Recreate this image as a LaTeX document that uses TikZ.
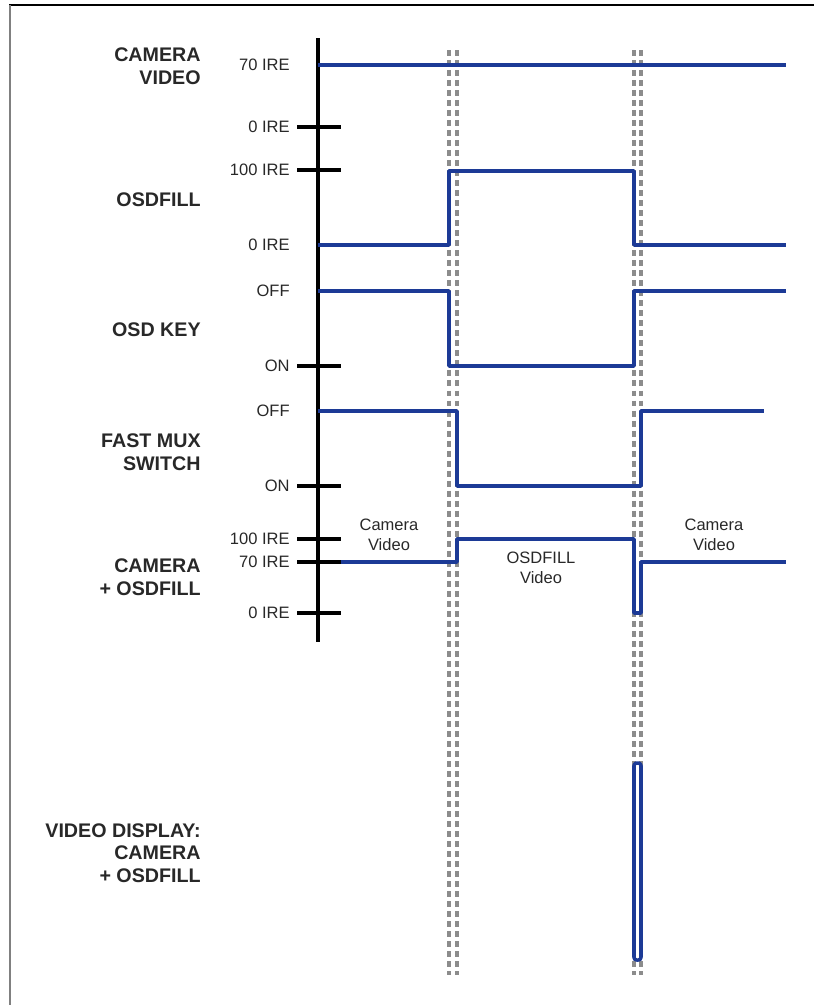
\documentclass[tikz,border=0pt]{standalone}
\usepackage{fontspec}
\setmainfont{Liberation Sans}
\usetikzlibrary{positioning}
\definecolor{sigBlue}{RGB}{28,58,150}
\definecolor{lblGray}{RGB}{40,40,40}
\definecolor{markGray}{RGB}{140,140,140}

\begin{document}
\begin{tikzpicture}[x=0.02cm,y=-0.02cm,
  sig/.style={draw=sigBlue,line width=2pt,line join=round},
  tick/.style={draw=black,line width=2pt},
  guide/.style={draw=markGray,line width=1.8pt,dash pattern=on 3.4pt off 2.3pt},
  lvl/.style={anchor=east,inner sep=0pt,font=\fontsize{9.4pt}{11pt}\selectfont,text=lblGray},
  trace/.style={anchor=east,align=right,inner sep=0pt,font=\fontsize{11.2pt}{12.8pt}\selectfont\bfseries,text=lblGray},
  note/.style={align=center,inner sep=0pt,font=\fontsize{9.4pt}{11.4pt}\selectfont,text=lblGray}]
\useasboundingbox (0,0) rectangle (814,1005);
\draw[black,line width=1.2pt] (9,5) -- (814,5);
\draw[gray,line width=1.2pt] (10,5) -- (10,1005);

% edge markers
\foreach \x in {449,457,634,641}
  \draw[guide] (\x,50) -- (\x,975);

% axis and ticks
\coordinate (axtop) at (318,38);
\coordinate (axbot) at (318,642);
\draw[tick] (axtop) -- (axbot);
\foreach \y in {127,170,366,486,539,562,613}
  \draw[tick] (297,\y) -- (341,\y);

% level labels
\foreach \y/\t [count=\i] in {65/70 IRE,127/0 IRE,170/100 IRE,245/0 IRE,291/OFF,366/ON,411/OFF,486/ON,539/100 IRE,562/70 IRE,613/0 IRE}
  \node[lvl] (lv\i) at (290,\y) {\t};

% trace names
\node[trace] (camvid) at (201,66) {CAMERA\\VIDEO};
\node[trace] (osdfill) at (201,200) {OSDFILL};
\node[trace] (osdkey) at (201,330) {OSD KEY};
\node[trace] (fmux) at (201,452) {FAST MUX\\SWITCH};
\node[trace] (camosd) at (201,577) {CAMERA\\+ OSDFILL};
\node[trace] (display) at (201,853) {VIDEO DISPLAY:\\CAMERA\\+ OSDFILL};

% waveforms
\draw[sig] (318,65) -- (786,65);
\draw[sig] (318,245) -| (449,171) -| (634,245) -- (786,245);
\draw[sig] (318,291) -| (449,366) -| (634,291) -- (786,291);
\draw[sig] (318,411) -| (457,486) -| (641,411) -- (764,411);
\draw[sig] (341,562) -| (457,539) -| (634,613) -| (641,562) -- (786,562);
\draw[sig,rounded corners=1.5pt] (634,763) rectangle (641,960);

% segment notes
\node[note] (camleft) at (389,535) {Camera\\Video};
\node[note] (fillmid) at (541,568) {OSDFILL\\Video};
\node[note] (camright) at (714,535) {Camera\\Video};
\end{tikzpicture}
\end{document}
